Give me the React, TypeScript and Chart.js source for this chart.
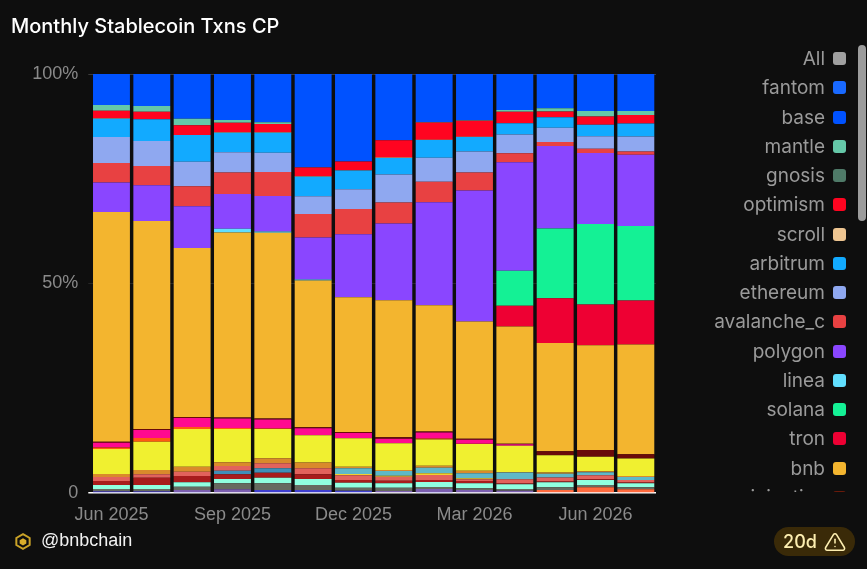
import React, { useEffect, useRef } from 'react';
import Chart from 'chart.js/auto';

const months = ['Jun 2025', 'Jul 2025', 'Aug 2025', 'Sep 2025', 'Oct 2025', 'Nov 2025', 'Dec 2025', 'Jan 2026', 'Feb 2026', 'Mar 2026', 'Apr 2026', 'May 2026', 'Jun 2026', 'Jul 2026'];
const yTicks = [0, 50, 100];

// shares per month
const fantom = [0, 0, 0, 0, 0, 0, 0, 0, 0, 0, 0, 0, 0, 0];
const base = [7.4, 7.64, 10.67, 10.98, 11.53, 22.27, 20.93, 15.82, 11.53, 11.05, 8.59, 8.19, 8.83, 8.83];
const mantle = [1.36, 1.36, 1.58, 0.64, 0.41, 0.1, 0, 0, 0.1, 0.1, 0.41, 0.81, 1.36, 0.95];
const gnosis = [0, 0, 0, 0, 0, 0, 0, 0, 0, 0, 0, 0, 0, 0];
const optimism = [1.81, 1.81, 2.32, 2.29, 1.98, 2.08, 2.05, 4.15, 4.15, 3.82, 2.77, 1.34, 1.98, 2.08];
const scroll = [0.1, 0, 0, 0.1, 0.1, 0.1, 0.1, 0.1, 0.05, 0.1, 0, 0, 0, 0];
const arbitrum = [4.39, 5.18, 6.37, 4.63, 4.77, 4.7, 4.46, 3.96, 4.3, 3.44, 2.72, 2.55, 2.7, 3.1];
const ethereum = [6.21, 5.97, 5.87, 4.84, 4.61, 4.2, 4.7, 6.68, 5.73, 5.01, 4.44, 3.41, 3.03, 3.58];
const avalanche = [4.68, 4.61, 4.77, 5.18, 5.73, 5.66, 6.04, 5.01, 4.92, 4.3, 2.15, 0.95, 1.03, 0.79];
const polygon = [7.02, 8.52, 9.95, 8.26, 8.52, 10.02, 15.04, 18.31, 24.75, 31.34, 25.94, 19.74, 16.95, 17.02];
const linea = [0, 0, 0, 0.88, 0.31, 0.24, 0, 0, 0, 0, 0, 0, 0, 0];
const solana = [0, 0, 0, 0, 0, 0, 0, 0, 0, 0, 8.35, 16.71, 19.26, 17.83];
const tron = [0, 0, 0, 0, 0, 0, 0, 0, 0, 0, 5.01, 10.74, 9.79, 10.5];
const bnb = [54.89, 49.64, 40.33, 44.15, 44.39, 35.08, 32.22, 32.77, 30.31, 28, 28, 25.94, 25.06, 26.25];
// thin layers under bnb, their legend rows are scrolled out of view
const maroon = [0.24, 0.24, 0.24, 0.24, 0.24, 0.24, 0.24, 0.36, 0.24, 0.24, 0.12, 0.95, 1.6, 1.03];
const magenta = [1.15, 1.91, 2.15, 2.27, 2.15, 1.67, 1.26, 1.07, 1.43, 0.95, 0.36, 0, 0, 0];
const orange = [0.36, 0.88, 0.48, 0.24, 0.12, 0, 0, 0, 0.24, 0.1, 0, 0, 0, 0];
const yellow = [5.97, 6.75, 9, 7.95, 6.99, 6.52, 6.78, 6.37, 6.28, 6.37, 6.28, 4.13, 3.48, 4.15];
const brown = [0.72, 1.03, 1.19, 0.88, 1.19, 1.43, 0.38, 0.24, 0.48, 0.6, 0.1, 0.3, 0.24, 0.24];
const teal = [0, 0, 0, 0, 0, 0, 1.36, 1.12, 1.36, 1.19, 1.6, 0.9, 0.72, 0.72];
const gold = [0, 0, 0, 0, 0, 0, 0.31, 0.24, 0.41, 0.24, 0, 0, 0, 0];
const salmon = [0.95, 0.81, 1.03, 1.12, 1.19, 1.43, 1.12, 0.95, 1.19, 0.41, 1.03, 0.95, 0.95, 0.62];
const steel = [0, 0, 0, 0.86, 1.05, 0, 0, 0, 0, 0, 0, 0, 0, 0];
const darkRed = [0.95, 1.74, 1.5, 1.12, 1.19, 1.12, 0.64, 0.62, 0.5, 0.55, 0.2, 0.2, 0.2, 0.2];
const aqua = [0.95, 0.95, 1.05, 1.03, 1.34, 1.43, 1.19, 1.05, 1.19, 1.19, 1.12, 1.19, 1.19, 0.95];
const gray = [0.48, 0.48, 0.79, 1.43, 1.6, 1.19, 0.72, 0.79, 0.48, 0.41, 0.41, 0.64, 0.55, 0.48];
const purple = [0.12, 0.12, 0.5, 0.88, 0, 0, 0, 0.48, 0.72, 0.72, 0.55, 0, 0, 0];
const indigo = [0.36, 0.36, 0.22, 0, 0.72, 0.72, 0.55, 0, 0.24, 0, 0, 0, 0, 0];
const coral = [0, 0, 0, 0, 0, 0, 0, 0, 0, 0, 0, 0.72, 1.36, 0.88];

const legendRows = [
    { name: 'All', color: '#a0a0a0' },
    { name: 'fantom', color: '#1969ff' },
    { name: 'base', color: '#0052ff' },
    { name: 'mantle', color: '#65c8a8' },
    { name: 'gnosis', color: '#4f7a68' },
    { name: 'optimism', color: '#ff0420' },
    { name: 'scroll', color: '#eec591' },
    { name: 'arbitrum', color: '#12aaff' },
    { name: 'ethereum', color: '#8fa8f0' },
    { name: 'avalanche_c', color: '#e84142' },
    { name: 'polygon', color: '#8a46ff' },
    { name: 'linea', color: '#61dfff' },
    { name: 'solana', color: '#14f195' },
    { name: 'tron', color: '#ee0033' },
    { name: 'bnb', color: '#f3b52f' },
    { name: 'injective', color: '#6a1a0a' },
];

// top of the stack first
const stack: [string, number[], string][] = [
    ['fantom', fantom, '#1969ff'],
    ['base', base, '#0052ff'],
    ['mantle', mantle, '#65c8a8'],
    ['gnosis', gnosis, '#4f7a68'],
    ['optimism', optimism, '#ff0420'],
    ['scroll', scroll, '#eec591'],
    ['arbitrum', arbitrum, '#12aaff'],
    ['ethereum', ethereum, '#8fa8f0'],
    ['avalanche_c', avalanche, '#e84142'],
    ['polygon', polygon, '#8a46ff'],
    ['linea', linea, '#61dfff'],
    ['solana', solana, '#14f195'],
    ['tron', tron, '#ee0033'],
    ['bnb', bnb, '#f3b52f'],
    ['maroon', maroon, '#6a0a0a'],
    ['magenta', magenta, '#ff0a90'],
    ['orange', orange, '#ff5a10'],
    ['yellow', yellow, '#f0f030'],
    ['brown', brown, '#d98a2b'],
    ['teal', teal, '#5fb8c8'],
    ['gold', gold, '#f0d030'],
    ['salmon', salmon, '#e2625c'],
    ['steel', steel, '#3f8fb8'],
    ['darkRed', darkRed, '#a81c1c'],
    ['aqua', aqua, '#90ffe0'],
    ['gray', gray, '#666a60'],
    ['purple', purple, '#7c5fb0'],
    ['indigo', indigo, '#3f3fd0'],
    ['coral', coral, '#ff6a3d'],
];

const BG = '#0e0e0e';
const SANS = '"Liberation Sans", Arial, sans-serif';

export default function App() {
    const chartRef = useRef<HTMLCanvasElement>(null);

    useEffect(() => {
        document.body.style.margin = '0';
        document.body.style.background = BG;
        if (!chartRef.current) return;

        const totals = months.map((_, i) => stack.reduce((sum, s) => sum + s[1][i], 0));
        // stack is listed top first, the first dataset sits at the bottom
        const datasets = [...stack].reverse().map(([label, values, color]) => ({
            label,
            data: values.map((v, i) => (v / totals[i]) * 100),
            backgroundColor: color,
            borderWidth: 0,
            categoryPercentage: 1,
            barPercentage: 0.915,
        }));

        const chart = new Chart(chartRef.current, {
            type: 'bar',
            data: { labels: months, datasets },
            options: {
                responsive: false,
                animation: false,
                devicePixelRatio: 1,
                layout: { padding: { top: 74, right: 211, left: 0, bottom: 0 } },
                plugins: { legend: { display: false }, tooltip: { enabled: false }, title: { display: false } },
                scales: {
                    x: {
                        stacked: true,
                        afterFit: (s: any) => { s.height = 76; },
                        border: { display: false },
                        grid: { display: false },
                        ticks: {
                            autoSkip: false,
                            maxRotation: 0,
                            padding: 3,
                            color: '#8a8a8a',
                            font: { family: SANS, size: 18 },
                            callback: (_: any, i: number) => (i % 3 === 0 ? months[i] : ''),
                        },
                    },
                    y: {
                        stacked: true,
                        min: 0,
                        max: 100,
                        afterFit: (s: any) => { s.width = 91.3; },
                        afterBuildTicks: (s: any) => { s.ticks = yTicks.map((value) => ({ value })); },
                        border: { display: false },
                        grid: {
                            tickLength: 3,
                            lineWidth: (c: any) => (c.tick.value === 0 ? 1.5 : 1),
                            color: (c: any) => (c.tick.value === 0 ? '#ffffff' : c.tick.value === 100 ? '#3c3c3c' : 'rgba(255,255,255,0.1)'),
                        },
                        ticks: {
                            padding: 10,
                            color: '#8a8a8a',
                            font: { family: SANS, size: 18 },
                            callback: (v: any) => (v === 0 ? '0' : v + '%'),
                        },
                    },
                },
            },
        });
        return () => chart.destroy();
    }, []);

    return (
        <div style={{ position: 'relative', width: 867, height: 569, overflow: 'hidden', background: BG }}>
            <canvas ref={chartRef} width={867} height={569} style={{ position: 'absolute', left: 0, top: 0 }}></canvas>

            <div style={{ position: 'absolute', left: 11, top: 14, color: '#fff', font: `500 20px Inter, ${SANS}`, whiteSpace: 'nowrap' }}>
                Monthly Stablecoin Txns CP
            </div>

            {/* legend, cut off like the scrolling list in the original */}
            <div style={{ position: 'absolute', left: 660, top: 44, width: 190, height: 448, overflow: 'hidden' }}>
                {legendRows.map((row, i) => (
                    <div key={row.name} style={{ position: 'absolute', top: i * 29.25, right: 4, height: 29, display: 'flex', alignItems: 'center', gap: 8, color: '#9a9a9a', font: '19px Inter, sans-serif' }}>
                        <span>{row.name}</span>
                        <span style={{ width: 13, height: 13, borderRadius: 3, background: row.color, display: 'inline-block' }}></span>
                    </div>
                ))}
            </div>
            <div style={{ position: 'absolute', left: 858, top: 45, width: 8, height: 176, borderRadius: 4, background: '#9c9c9c' }}></div>

            <svg width="16" height="17" viewBox="0 0 24 24" style={{ position: 'absolute', left: 15, top: 533 }}>
                <path d="M12 1l10 5.7v10.6L12 23 2 17.3V6.7z" fill="none" stroke="#c9a227" strokeWidth="3"></path>
                <path d="M12 7l5 3v5l-5 3-5-3v-5z" fill="#d9ae2b"></path>
            </svg>
            <div style={{ position: 'absolute', left: 41, top: 530, color: '#f2f2f2', font: `18px ${SANS}`, whiteSpace: 'nowrap' }}>@bnbchain</div>

            <div style={{ position: 'absolute', left: 774, top: 527, width: 81, height: 29, borderRadius: 15, background: '#3a2a08', color: '#fdeeb0', display: 'flex', alignItems: 'center', justifyContent: 'center', gap: 7, font: '500 18px Inter, sans-serif' }}>
                <span>20d</span>
                <svg width="22" height="22" viewBox="0 0 24 24" fill="none" stroke="currentColor" strokeWidth="1.7" strokeLinecap="round" strokeLinejoin="round">
                    <path d="M10.3 3.9L1.8 18a2 2 0 0 0 1.7 3h17a2 2 0 0 0 1.7-3L13.7 3.9a2 2 0 0 0-3.4 0z"></path>
                    <path d="M12 9v4"></path>
                    <path d="M12 17h.01"></path>
                </svg>
            </div>
        </div>
    );
}
